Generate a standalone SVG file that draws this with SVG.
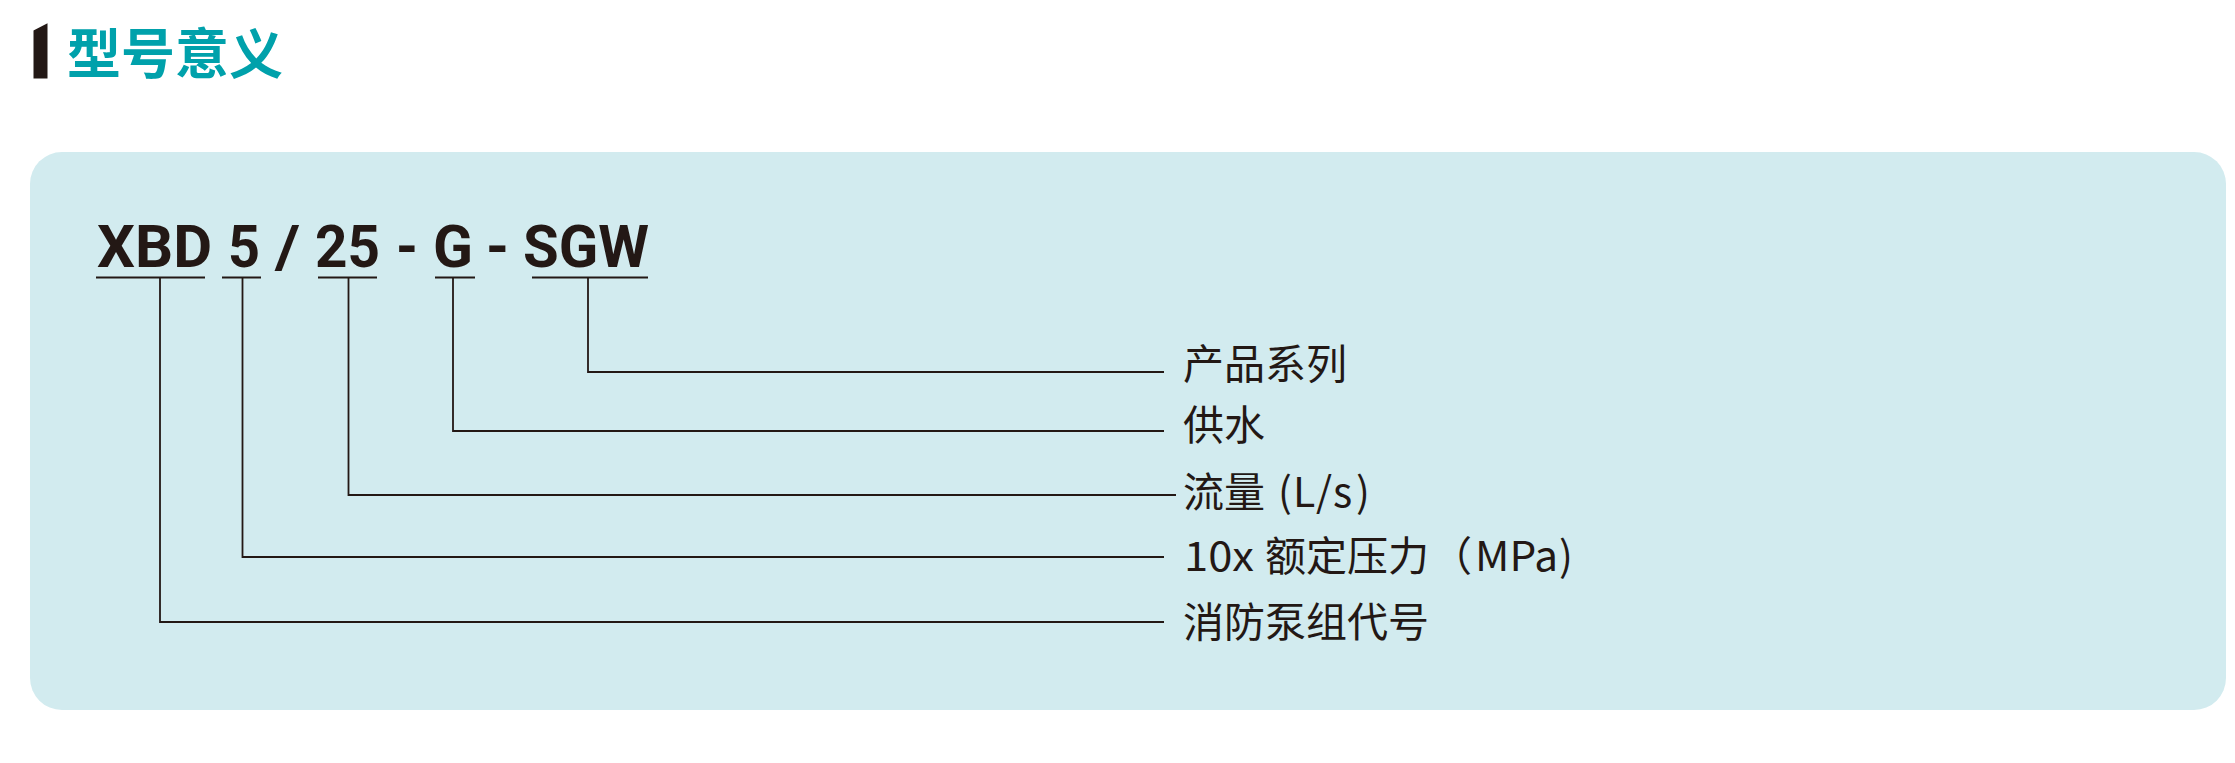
<svg xmlns="http://www.w3.org/2000/svg" width="2235" height="763" viewBox="0 0 2235 763">
<style>
.title{font-family:"Noto Sans CJK SC","Noto Sans",sans-serif;font-weight:700;font-size:54px;fill:#00A1AB}
.code{font-family:Roboto,"Liberation Sans",sans-serif;font-weight:700;font-size:59px;fill:#231815}
.lbl{font-family:"Noto Sans CJK SC","Noto Sans",sans-serif;font-size:41px;fill:#231815}
.ul{stroke:#231815;stroke-width:2.2;fill:none}
.conn{stroke:#231815;stroke-width:1.8;fill:none}
</style>
<rect width="2235" height="763" fill="#ffffff"/>
<g id="header">
<polygon points="33.5,30.5 47.5,23.3 47.5,78.5 33.5,78.5" fill="#231815"/>
<text class="title" x="67" y="74">型号意义</text>
</g>
<rect id="panel" x="30" y="152" width="2196" height="558" rx="32" ry="32" fill="#D2EBEF"/>
<g id="code">
<text class="code" x="97" y="267" textLength="115" lengthAdjust="spacingAndGlyphs">XBD</text>
<text class="code" x="228" y="267" textLength="32" lengthAdjust="spacingAndGlyphs">5</text>
<text class="code" x="275" y="267" textLength="25" lengthAdjust="spacingAndGlyphs">/</text>
<text class="code" x="315" y="267" textLength="65" lengthAdjust="spacingAndGlyphs">25</text>
<text class="code" x="396" y="267" textLength="22" lengthAdjust="spacingAndGlyphs">-</text>
<text class="code" x="433" y="267" textLength="40" lengthAdjust="spacingAndGlyphs">G</text>
<text class="code" x="486" y="267" textLength="23" lengthAdjust="spacingAndGlyphs">-</text>
<text class="code" x="523" y="267" textLength="126" lengthAdjust="spacingAndGlyphs">SGW</text>
<path class="ul" d="M96 277.5H205M222 277.5H261M318 277.5H377M435 277.5H475M532 277.5H648"/>
</g>
<g id="connectors">
<polyline class="conn" points="588,278 588,372 1164,372"/>
<polyline class="conn" points="453,278 453,431 1164,431"/>
<polyline class="conn" points="348.5,278 348.5,495 1176,495"/>
<polyline class="conn" points="242.5,278 242.5,557 1164,557"/>
<polyline class="conn" points="160,278 160,622 1164,622"/>
</g>
<g id="label-series"><text class="lbl" x="1183" y="379">产品系列</text></g>
<g id="label-supply"><text class="lbl" x="1183" y="440">供水</text></g>
<g id="label-flow"><text class="lbl" y="507"><tspan x="1183">流量</tspan><tspan x="1278">(</tspan><tspan x="1293">L</tspan><tspan x="1316">/</tspan><tspan x="1333">s</tspan><tspan x="1356">)</tspan></text></g>
<g id="label-pressure"><text class="lbl" y="571"><tspan x="1184" textLength="70" lengthAdjust="spacingAndGlyphs">10x</tspan><tspan x="1265">额定压力</tspan><tspan x="1431">（</tspan><tspan x="1475" textLength="83" lengthAdjust="spacingAndGlyphs">MPa</tspan><tspan x="1559">)</tspan></text></g>
<g id="label-code"><text class="lbl" x="1183" y="637">消防泵组代号</text></g>
</svg>
